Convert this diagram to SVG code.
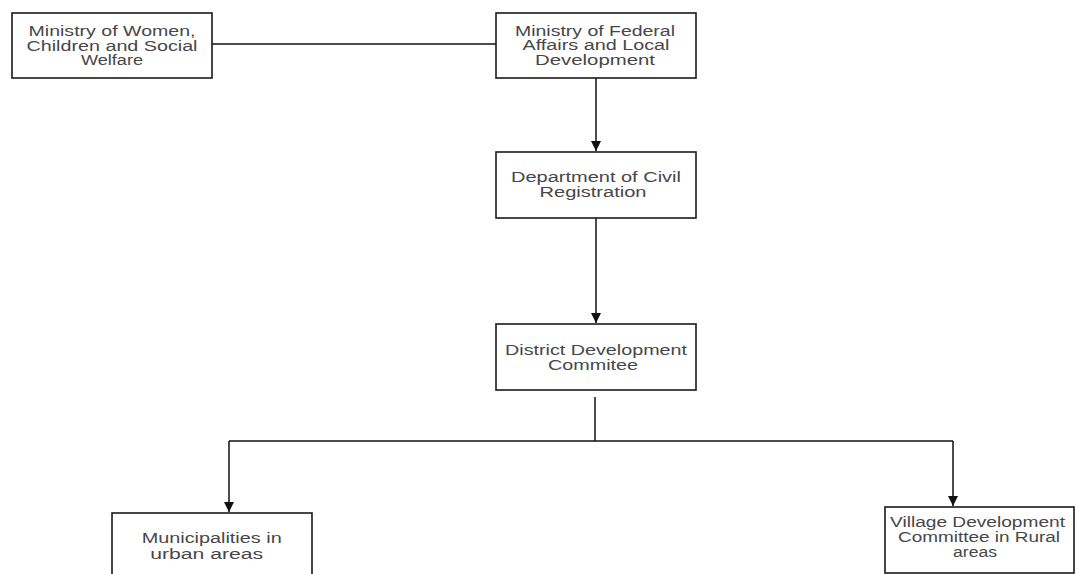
<svg xmlns="http://www.w3.org/2000/svg" width="1077" height="574" viewBox="0 0 1077 574">
<style>
.box{fill:#fff;stroke:#1a1a1a;stroke-width:1.6}
.t{font-family:"Liberation Sans",Arial,sans-serif;font-size:14px;fill:#474747;text-anchor:middle}
.c{fill:none;stroke:#111;stroke-width:1.5}
</style>
<defs>
<marker id="ah" viewBox="0 0 10 10" refX="10" refY="5" markerWidth="10" markerHeight="10" markerUnits="userSpaceOnUse" orient="auto">
<path d="M0,0 L10,5 L0,10 z" fill="#111"/>
</marker>
</defs>
<rect width="1077" height="574" fill="#fff"/>
<g id="connectors">
<line class="c" x1="212" y1="44" x2="496" y2="44"/>
<line class="c" x1="596" y1="78" x2="596" y2="151" marker-end="url(#ah)"/>
<line class="c" x1="596" y1="218" x2="596" y2="323" marker-end="url(#ah)"/>
<polyline class="c" points="595,397 595,441"/>
<polyline class="c" points="229,441 953,441"/>
<line class="c" x1="229" y1="441" x2="229" y2="512" marker-end="url(#ah)"/>
<line class="c" x1="953" y1="441" x2="953" y2="506" marker-end="url(#ah)"/>
</g>
<g id="n1">
<rect class="box" x="12" y="13" width="200" height="65"/>
<text class="t" x="112" y="36" textLength="167" lengthAdjust="spacingAndGlyphs">Ministry of Women,</text>
<text class="t" x="112" y="50.5" textLength="171" lengthAdjust="spacingAndGlyphs">Children and Social</text>
<text class="t" x="112" y="65" textLength="62" lengthAdjust="spacingAndGlyphs">Welfare</text>
</g>
<g id="n2">
<rect class="box" x="496" y="13" width="200" height="65"/>
<text class="t" x="595" y="35.5" textLength="160" lengthAdjust="spacingAndGlyphs">Ministry of Federal</text>
<text class="t" x="596" y="50" textLength="147" lengthAdjust="spacingAndGlyphs">Affairs and Local</text>
<text class="t" x="595" y="65" textLength="120" lengthAdjust="spacingAndGlyphs">Development</text>
</g>
<g id="n3">
<rect class="box" x="496" y="152" width="200" height="66"/>
<text class="t" x="596" y="182" textLength="170" lengthAdjust="spacingAndGlyphs">Department of Civil</text>
<text class="t" x="593" y="197" textLength="107" lengthAdjust="spacingAndGlyphs">Registration</text>
</g>
<g id="n4">
<rect class="box" x="496" y="324" width="200" height="66"/>
<text class="t" x="596" y="355" textLength="182" lengthAdjust="spacingAndGlyphs">District Development</text>
<text class="t" x="593" y="370" textLength="90" lengthAdjust="spacingAndGlyphs">Commitee</text>
</g>
<g id="n5">
<rect class="box" x="112" y="513" width="200" height="70"/>
<text class="t" x="211.7" y="543" textLength="140" lengthAdjust="spacingAndGlyphs">Municipalities in</text>
<text class="t" x="206.7" y="558.5" textLength="113" lengthAdjust="spacingAndGlyphs">urban areas</text>
</g>
<g id="n6">
<rect class="box" x="885" y="507" width="189" height="66"/>
<text class="t" x="977.5" y="527" textLength="175" lengthAdjust="spacingAndGlyphs">Village Development</text>
<text class="t" x="979" y="542" textLength="162" lengthAdjust="spacingAndGlyphs">Committee in Rural</text>
<text class="t" x="975" y="557" textLength="44" lengthAdjust="spacingAndGlyphs">areas</text>
</g>
</svg>
